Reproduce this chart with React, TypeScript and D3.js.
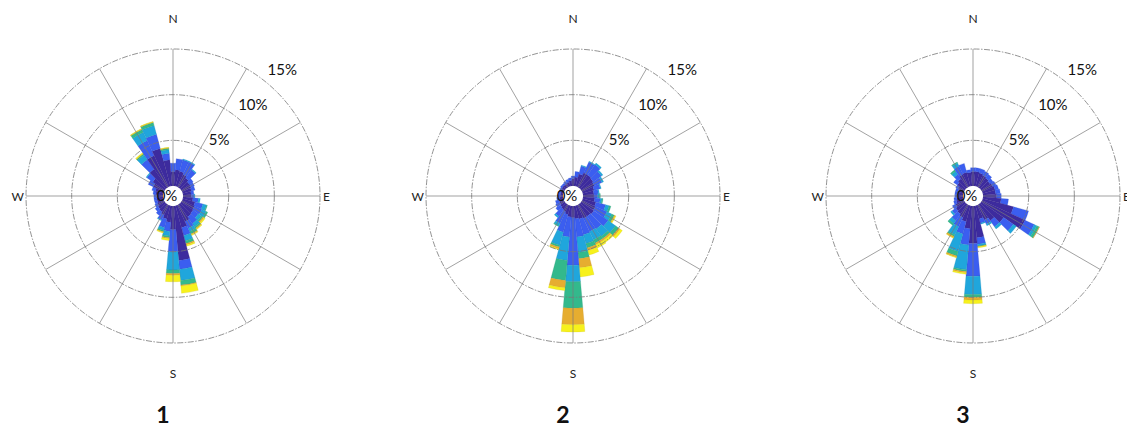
import React from "react";
import * as d3 from "d3";

// Direction bins (degrees clockwise from north), 10° sectors
const directions = [0, 10, 20, 30, 40, 50, 60, 70, 80, 90, 100, 110, 120, 130, 140, 150, 160, 170,
  180, 190, 200, 210, 220, 230, 240, 250, 260, 270, 280, 290, 300, 310, 320, 330, 340, 350];

const ringTicks = [5, 10, 15];
const ringLabels = ["5%", "10%", "15%"];
const compassLabels = ["N", "E", "S", "W"];
const panelLabels = ["1", "2", "3"];

// Rose 1: frequency (%) per speed bin per direction
const rose1Bin1 = [1.6, 1.8, 1.7, 1.5, 1.3, 1.1, 1.1, 1.0, 0.9, 0.9, 1.1, 1.4, 1.5, 1.6, 1.7, 2.0, 2.5, 6.0,
  2.6, 1.8, 1.5, 1.2, 1.0, 0.9, 0.8, 0.7, 0.7, 0.7, 0.8, 0.9, 1.3, 1.6, 2.5, 3.8, 4.3, 2.9];
const rose1Bin2 = [0.9, 1.2, 1.3, 1.5, 1.1, 0.5, 0.4, 0.4, 0.3, 0.3, 0.6, 0.9, 0.9, 0.7, 0.9, 0.8, 0.9, 0.95,
  2.4, 1.0, 1.0, 0.6, 0.5, 0.4, 0.3, 0.3, 0.3, 0.3, 0.3, 0.4, 0.6, 0.8, 1.3, 1.8, 1.6, 0.7];
const rose1Bin3 = [0, 0, 0.1, 0.1, 0.1, 0, 0, 0, 0, 0.1, 0.2, 0.4, 0.5, 0.4, 0.4, 0.4, 0.6, 1.25,
  2.0, 0.5, 0.3, 0.1, 0, 0, 0, 0, 0, 0, 0, 0, 0, 0.1, 0.6, 1.0, 1.0, 0.4];
const rose1Bin4 = [0, 0, 0, 0, 0, 0, 0, 0, 0, 0, 0, 0.1, 0.2, 0.2, 0.2, 0.3, 0.3, 0.5,
  0.4, 0.2, 0.15, 0, 0, 0, 0, 0, 0, 0, 0, 0, 0, 0, 0.15, 0.35, 0.35, 0.15];
const rose1Bin5 = [0, 0, 0, 0, 0, 0, 0, 0, 0, 0, 0, 0, 0, 0.15, 0.1, 0.1, 0.15, 0.1,
  0.2, 0.1, 0.05, 0, 0, 0, 0, 0, 0, 0, 0, 0, 0, 0, 0.05, 0.05, 0.05, 0.05];
const rose1Bin6 = [0, 0, 0, 0, 0, 0, 0, 0, 0, 0, 0, 0, 0, 0.15, 0.1, 0.1, 0.15, 0.8,
  0.7, 0.2, 0.1, 0, 0, 0, 0, 0, 0, 0, 0, 0, 0, 0, 0.1, 0.05, 0.05, 0.05];

// Rose 2
const rose2Bin1 = [0.8, 1.0, 1.4, 1.7, 1.7, 1.6, 1.5, 1.3, 1.2, 1.2, 1.3, 1.5, 1.6, 1.7, 1.6, 1.6, 1.5, 1.4,
  1.3, 1.2, 1.0, 0.8, 0.7, 0.6, 0.5, 0.5, 0.4, 0.3, 0.3, 0.3, 0.3, 0.4, 0.4, 0.4, 0.5, 0.6];
const rose2Bin2 = [0.3, 0.6, 0.9, 1.3, 1.4, 1.1, 0.9, 0.7, 0.5, 0.4, 0.6, 1.1, 1.4, 1.9, 1.7, 1.6, 1.8, 2.0,
  5.2, 2.2, 2.0, 1.4, 0.9, 0.6, 0.5, 0.4, 0.3, 0.3, 0.2, 0.2, 0.2, 0.2, 0.2, 0.3, 0.3, 0.3];
const rose2Bin3 = [0, 0, 0.1, 0.1, 0.2, 0.2, 0.2, 0.1, 0.1, 0.2, 0.2, 0.4, 0.6, 1.0, 1.0, 1.0, 1.0, 1.7,
  1.8, 2.6, 1.5, 0.3, 0.2, 0, 0, 0, 0, 0, 0, 0, 0, 0, 0, 0, 0, 0];
const rose2Bin4 = [0, 0, 0, 0, 0, 0, 0, 0, 0, 0.1, 0.1, 0.2, 0.3, 0.4, 0.3, 0.4, 0.5, 0.7,
  2.9, 2.2, 0.2, 0.1, 0, 0, 0, 0, 0, 0, 0, 0, 0, 0, 0, 0, 0, 0];
const rose2Bin5 = [0, 0, 0, 0, 0, 0, 0, 0, 0, 0, 0, 0, 0.1, 0.2, 0.2, 0.2, 0.3, 1.0,
  1.8, 0.8, 0.2, 0, 0, 0, 0, 0, 0, 0, 0, 0, 0, 0, 0, 0, 0, 0];
const rose2Bin6 = [0, 0, 0, 0, 0, 0, 0, 0, 0, 0, 0, 0, 0.1, 0.3, 0.3, 0.4, 0.5, 1.0,
  0.8, 0.3, 0.1, 0, 0, 0, 0, 0, 0, 0, 0, 0, 0, 0, 0, 0, 0, 0];

// Rose 3
const rose3Bin1 = [1.6, 1.6, 1.5, 1.4, 1.3, 1.2, 1.3, 1.4, 1.4, 1.5, 2.0, 3.5, 5.2, 3.0, 2.2, 1.8, 1.5, 3.5,
  4.1, 2.5, 1.8, 1.5, 1.3, 1.2, 1.0, 0.8, 0.7, 0.6, 0.6, 0.6, 0.7, 1.0, 1.2, 1.5, 1.6, 1.5];
const rose3Bin2 = [0.4, 0.4, 0.5, 0.5, 0.5, 0.4, 0.4, 0.4, 0.5, 0.5, 0.8, 1.7, 1.1, 1.3, 0.8, 0.5, 0.5, 0.7,
  3.6, 1.8, 1.4, 1.1, 0.9, 0.5, 0.4, 0.3, 0.3, 0.3, 0.3, 0.3, 0.3, 0.5, 0.6, 1.0, 1.0, 0.3];
const rose3Bin3 = [0, 0, 0, 0, 0, 0, 0, 0, 0, 0, 0, 0, 0.3, 0.4, 0.3, 0.2, 0.1, 0.2,
  2.0, 2.7, 2.0, 1.0, 0.4, 0.2, 0, 0, 0, 0, 0, 0, 0, 0, 0.4, 0.4, 0, 0];
const rose3Bin4 = [0, 0, 0, 0, 0, 0, 0, 0, 0, 0, 0, 0, 0.3, 0, 0, 0, 0, 0.05,
  0.3, 0.2, 0.5, 0.2, 0.2, 0, 0, 0, 0, 0, 0, 0, 0, 0, 0.2, 0.1, 0, 0];
const rose3Bin5 = [0, 0, 0, 0, 0, 0, 0, 0, 0, 0, 0, 0, 0.05, 0, 0, 0, 0, 0.05,
  0.3, 0.15, 0.15, 0.15, 0, 0, 0, 0, 0, 0, 0, 0, 0, 0, 0, 0, 0, 0];
const rose3Bin6 = [0, 0, 0, 0, 0, 0, 0, 0, 0, 0, 0, 0, 0, 0, 0, 0, 0, 0.1,
  0.4, 0.15, 0.05, 0.05, 0, 0, 0, 0, 0, 0, 0, 0, 0, 0, 0, 0, 0, 0];

const roses = [
  [rose1Bin1, rose1Bin2, rose1Bin3, rose1Bin4, rose1Bin5, rose1Bin6],
  [rose2Bin1, rose2Bin2, rose2Bin3, rose2Bin4, rose2Bin5, rose2Bin6],
  [rose3Bin1, rose3Bin2, rose3Bin3, rose3Bin4, rose3Bin5, rose3Bin6],
];

const binColors = ["#3d2b9e", "#3b5ef0", "#20a6dc", "#33b98c", "#e6ad30", "#f7f11c"];

const W = 1127;
const H = 428;
const FONT = "Lato, 'Open Sans', sans-serif";

function Rose({ bins, cx, cy, label }: { bins: number[][]; cx: number; cy: number; label: string }) {
  const r = d3.scaleLinear().domain([0, 15]).range([10, 147]);
  const arc = d3.arc<any>();
  const toRad = (deg: number) => (deg * Math.PI) / 180;
  const halfWidth = 5;

  const segments: JSX.Element[] = [];
  directions.forEach((dir, j) => {
    let cum = 0;
    bins.forEach((series, k) => {
      const v = series[j];
      if (v > 0) {
        const path = arc({
          innerRadius: r(cum),
          outerRadius: r(cum + v),
          startAngle: toRad(dir - halfWidth),
          endAngle: toRad(dir + halfWidth),
        }) as string;
        const c = d3.color(binColors[k])!.darker(0.6).formatHex();
        segments.push(
          <path key={`${j}-${k}`} d={path} fill={binColors[k]} stroke={c} strokeWidth={0.4} strokeOpacity={0.6} />
        );
        cum += v;
      }
    });
  });

  const spokeAngles = d3.range(0, 360, 30);
  const labelAngle = toRad(40);

  return (
    <g transform={`translate(${cx},${cy})`}>
      {segments}
      {spokeAngles.map((a) => {
        const t = toRad(a);
        return (
          <line
            key={`s${a}`}
            x1={r(0) * Math.sin(t)}
            y1={-r(0) * Math.cos(t)}
            x2={r(15) * Math.sin(t)}
            y2={-r(15) * Math.cos(t)}
            stroke="#7a7a7a"
            strokeWidth={0.7}
          />
        );
      })}
      {ringTicks.map((v) => (
        <circle key={`c${v}`} r={r(v)} fill="none" stroke="#777" strokeWidth={0.8} strokeDasharray="6,1.5,1.5,1.5" />
      ))}
      <circle r={r(0)} fill="#fff" />
      {ringTicks.map((v, i) => (
        <text
          key={`l${v}`}
          x={r(v) * Math.sin(labelAngle)}
          y={-r(v) * Math.cos(labelAngle) - 8}
          fontSize={15}
          fontFamily={FONT}
          fill="#111"
        >
          {ringLabels[i]}
        </text>
      ))}
      <text x={-6} y={5} fontSize={15} fontFamily={FONT} textAnchor="middle" fill="#111">0%</text>
      <text x={0} y={-173} fontSize={12} fontFamily={FONT} textAnchor="middle" fill="#222">{compassLabels[0]}</text>
      <text x={150} y={4.5} fontSize={12} fontFamily={FONT} textAnchor="start" fill="#222">{compassLabels[1]}</text>
      <text x={0} y={182} fontSize={12} fontFamily={FONT} textAnchor="middle" fill="#222">{compassLabels[2]}</text>
      <text x={-149} y={4.5} fontSize={12} fontFamily={FONT} textAnchor="end" fill="#222">{compassLabels[3]}</text>
      <text x={-10} y={227} fontSize={23} fontWeight="bold" fontFamily={FONT} textAnchor="middle" fill="#111">{label}</text>
    </g>
  );
}

export default function App() {
  return (
    <svg
      width={W}
      height={H}
      viewBox={`0 0 ${W} ${H}`}
      style={{ position: "absolute", left: 0, top: 0, display: "block", background: "#fff" }}
    >
      <rect width={W} height={H} fill="#fff" />
      {roses.map((bins, i) => (
        <Rose key={i} bins={bins} cx={173 + 400 * i} cy={196} label={panelLabels[i]} />
      ))}
    </svg>
  );
}
